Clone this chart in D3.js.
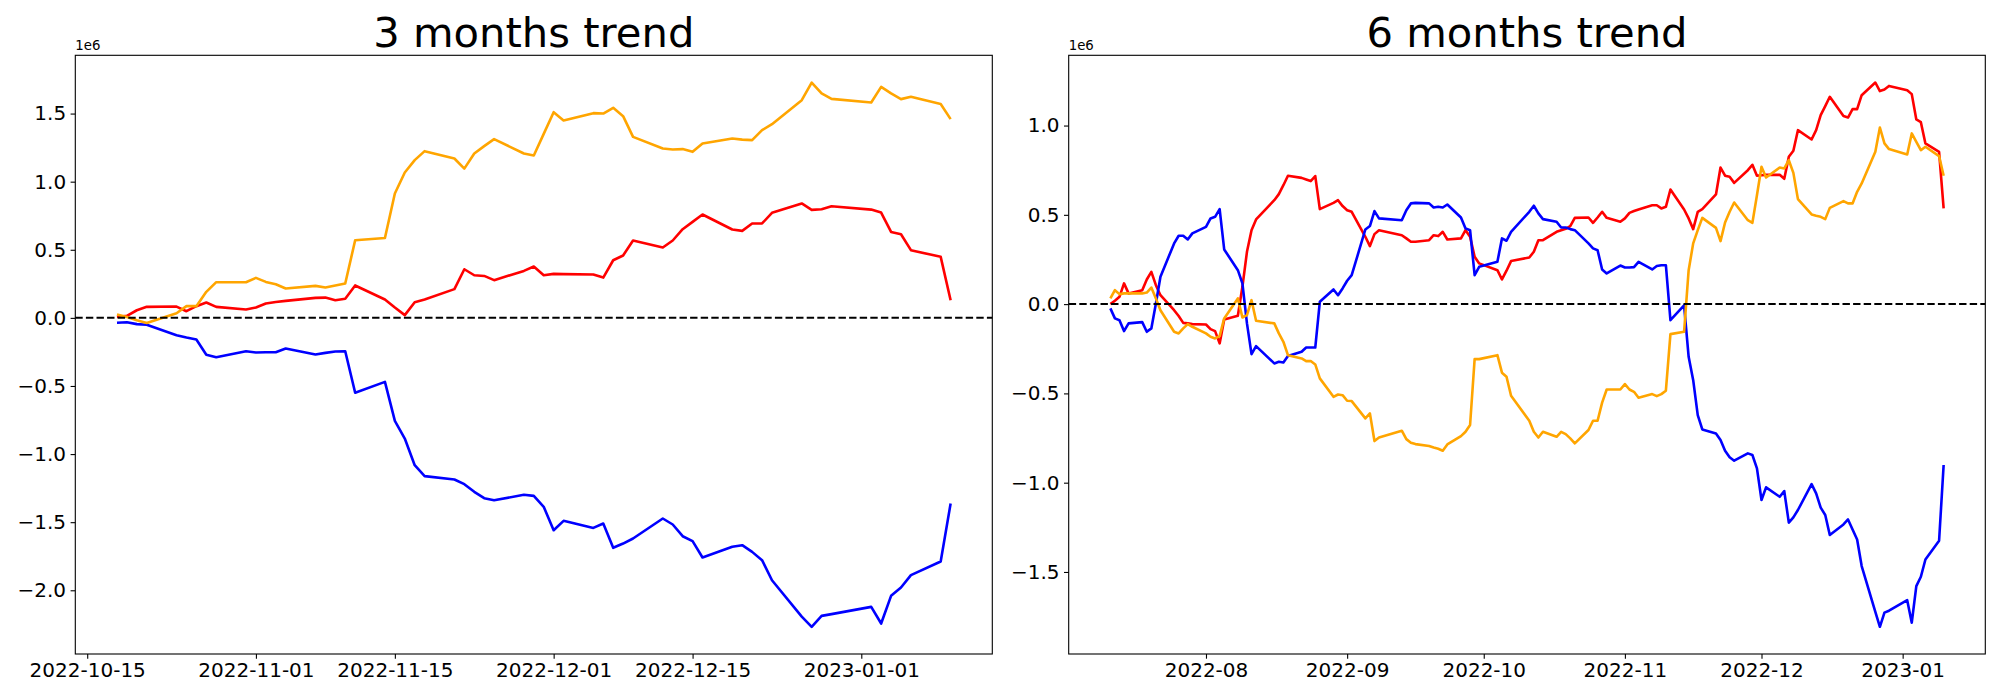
<!DOCTYPE html>
<html>
<head>
<meta charset="utf-8">
<script src="https://cdn.jsdelivr.net/npm/d3@7"></script>
<style>
body { margin: 0; background: #fff; }
svg { display: block; font-family: "DejaVu Sans", sans-serif; }
</style>
</head>
<body>
<svg id="chart" width="2000" height="700"></svg>
<script>
// trading days (KRX calendar) for the 6 month window
let days6 = [
    "2022-07-11","2022-07-12","2022-07-13","2022-07-14","2022-07-15","2022-07-18","2022-07-19","2022-07-20","2022-07-21","2022-07-22",
    "2022-07-25","2022-07-26","2022-07-27","2022-07-28","2022-07-29",
    "2022-08-01","2022-08-02","2022-08-03","2022-08-04","2022-08-05","2022-08-08","2022-08-09","2022-08-10","2022-08-11","2022-08-12",
    "2022-08-16","2022-08-17","2022-08-18","2022-08-19","2022-08-22","2022-08-23","2022-08-24","2022-08-25","2022-08-26",
    "2022-08-29","2022-08-30","2022-08-31",
    "2022-09-01","2022-09-02","2022-09-05","2022-09-06","2022-09-07","2022-09-08","2022-09-13","2022-09-14","2022-09-15","2022-09-16",
    "2022-09-19","2022-09-20","2022-09-21","2022-09-22","2022-09-23","2022-09-26","2022-09-27","2022-09-28","2022-09-29","2022-09-30",
    "2022-10-04","2022-10-05","2022-10-06","2022-10-07","2022-10-11","2022-10-12","2022-10-13","2022-10-14","2022-10-17","2022-10-18",
    "2022-10-19","2022-10-20","2022-10-21","2022-10-24","2022-10-25","2022-10-26","2022-10-27","2022-10-28","2022-10-31",
    "2022-11-01","2022-11-02","2022-11-03","2022-11-04","2022-11-07","2022-11-08","2022-11-09","2022-11-10","2022-11-11",
    "2022-11-14","2022-11-15","2022-11-16","2022-11-17","2022-11-18","2022-11-21","2022-11-22","2022-11-23","2022-11-24","2022-11-25",
    "2022-11-28","2022-11-29","2022-11-30",
    "2022-12-01","2022-12-02","2022-12-05","2022-12-06","2022-12-07","2022-12-08","2022-12-09","2022-12-12","2022-12-13","2022-12-14",
    "2022-12-15","2022-12-16","2022-12-19","2022-12-20","2022-12-21","2022-12-22","2022-12-23","2022-12-26","2022-12-27","2022-12-28",
    "2022-12-29",
    "2023-01-02","2023-01-03","2023-01-04","2023-01-05","2023-01-06","2023-01-09","2023-01-10"
];
// the 3 month window starts on 2022-10-18
let days3 = days6.slice(days6.indexOf("2022-10-18"));

// cumulative values, in units of 1e6
let red6 = [
    0.000, 0.019, 0.041, 0.116, 0.060, 0.078, 0.138, 0.181, 0.106, 0.050, -0.034, -0.067, -0.105, -0.108, -0.112,
    -0.114, -0.140, -0.151, -0.220, -0.086, -0.065, 0.097, 0.293, 0.414, 0.474, 0.582, 0.616, 0.666, 0.719, 0.707, 0.698, 0.689, 0.717, 0.532, 0.567, 0.582, 0.549,
    0.526, 0.517, 0.377, 0.325, 0.392, 0.414, 0.386, 0.368, 0.349, 0.349, 0.358, 0.386, 0.381, 0.405, 0.362, 0.368, 0.414, 0.377, 0.265, 0.228,
    0.190, 0.138, 0.187, 0.241, 0.261, 0.293, 0.358, 0.358, 0.405, 0.414, 0.422, 0.437, 0.483, 0.485, 0.455, 0.485, 0.517, 0.483, 0.461,
    0.480, 0.511, 0.521, 0.530, 0.554, 0.554, 0.536, 0.545, 0.642, 0.530, 0.480, 0.420, 0.517, 0.532, 0.614, 0.765, 0.719, 0.713, 0.679, 0.750, 0.780, 0.719,
    0.722, 0.724, 0.724, 0.702, 0.825, 0.859, 0.974, 0.922, 0.974, 1.058, 1.109, 1.161, 1.053, 1.045, 1.092, 1.092, 1.170, 1.241, 1.193, 1.202, 1.222,
    1.198, 1.176, 1.034, 1.019, 0.900, 0.853, 0.536
];
let blue6 = [
    -0.024, -0.080, -0.090, -0.151, -0.108, -0.101, -0.155, -0.136, 0.004, 0.153, 0.340, 0.383, 0.383, 0.362, 0.396,
    0.433, 0.480, 0.489, 0.532, 0.306, 0.190, 0.116, -0.108, -0.280, -0.235, -0.332, -0.323, -0.327, -0.291, -0.267, -0.243, -0.243, -0.243, 0.013, 0.082, 0.050, 0.088,
    0.131, 0.162, 0.418, 0.437, 0.521, 0.480, 0.470, 0.526, 0.564, 0.567, 0.564, 0.541, 0.545, 0.541, 0.558, 0.485, 0.424, 0.414, 0.162, 0.209,
    0.237, 0.368, 0.355, 0.405, 0.517, 0.551, 0.508, 0.476, 0.461, 0.429, 0.429, 0.420, 0.414, 0.340, 0.312, 0.302, 0.194, 0.172, 0.216,
    0.205, 0.205, 0.207, 0.237, 0.194, 0.213, 0.218, 0.218, -0.090, -0.007, -0.295, -0.426, -0.622, -0.702, -0.724, -0.761, -0.821, -0.858, -0.877, -0.836, -0.845, -0.920,
    -1.097, -1.026, -1.079, -1.047, -1.224, -1.194, -1.153, -1.008, -1.060, -1.140, -1.181, -1.293, -1.234, -1.206, -1.262, -1.318, -1.467, -1.723, -1.807, -1.728, -1.717,
    -1.658, -1.784, -1.579, -1.527, -1.430, -1.325, -0.901
];
let orange6 = [
    0.032, 0.078, 0.056, 0.060, 0.060, 0.060, 0.065, 0.093, 0.032, -0.034, -0.155, -0.164, -0.136, -0.112, -0.127,
    -0.164, -0.183, -0.192, -0.179, -0.080, 0.032, -0.075, -0.062, 0.022, -0.093, -0.108, -0.164, -0.211, -0.286, -0.304, -0.319, -0.319, -0.338, -0.416, -0.519, -0.506, -0.510,
    -0.541, -0.543, -0.640, -0.612, -0.767, -0.747, -0.709, -0.756, -0.776, -0.784, -0.795, -0.803, -0.810, -0.821, -0.786, -0.739, -0.715, -0.677, -0.308, -0.308,
    -0.286, -0.384, -0.407, -0.513, -0.653, -0.715, -0.747, -0.715, -0.743, -0.715, -0.728, -0.752, -0.780, -0.705, -0.653, -0.653, -0.552, -0.478, -0.478,
    -0.448, -0.478, -0.491, -0.524, -0.504, -0.515, -0.504, -0.485, -0.168, -0.155, 0.190, 0.340, 0.414, 0.483, 0.427, 0.353, 0.457, 0.517, 0.569, 0.470, 0.455, 0.610,
    0.769, 0.709, 0.765, 0.760, 0.806, 0.735, 0.588, 0.502, 0.495, 0.489, 0.476, 0.539, 0.577, 0.564, 0.564, 0.629, 0.676, 0.853, 0.989, 0.900, 0.868,
    0.838, 0.956, 0.909, 0.862, 0.881, 0.829, 0.719
];

let red3 = [
    0.007, 0.015, 0.056, 0.081, 0.083, 0.049, 0.086, 0.113, 0.081, 0.061,
    0.076, 0.105, 0.117, 0.125, 0.147, 0.149, 0.130, 0.140, 0.238, 0.135, 0.076, 0.020, 0.115, 0.135, 0.211, 0.357, 0.313, 0.308, 0.277, 0.345, 0.377, 0.313,
    0.323, 0.321, 0.318, 0.296, 0.423, 0.458, 0.568, 0.517, 0.568, 0.651, 0.705, 0.759, 0.649, 0.639, 0.693, 0.693, 0.771, 0.840, 0.793, 0.798, 0.820,
    0.795, 0.773, 0.631, 0.614, 0.497, 0.448, 0.130
];
let blue3 = [
    -0.036, -0.032, -0.046, -0.051, -0.127, -0.144, -0.159, -0.271, -0.289, -0.245,
    -0.254, -0.252, -0.252, -0.225, -0.269, -0.257, -0.247, -0.245, -0.550, -0.470, -0.756, -0.886, -1.082, -1.162, -1.187, -1.221, -1.277, -1.324, -1.339, -1.299, -1.307, -1.387,
    -1.559, -1.490, -1.542, -1.510, -1.688, -1.657, -1.620, -1.473, -1.517, -1.603, -1.639, -1.759, -1.681, -1.669, -1.718, -1.779, -1.926, -2.193, -2.268, -2.188, -2.175,
    -2.122, -2.244, -2.041, -1.980, -1.889, -1.789, -1.363
];
let orange3 = [
    0.025, 0.007, -0.017, -0.037, 0.034, 0.086, 0.086, 0.191, 0.262, 0.262,
    0.294, 0.264, 0.247, 0.216, 0.235, 0.223, 0.238, 0.252, 0.570, 0.587, 0.913, 1.067, 1.158, 1.224, 1.170, 1.096, 1.207, 1.261, 1.312, 1.207, 1.192, 1.351,
    1.510, 1.449, 1.503, 1.500, 1.542, 1.481, 1.329, 1.244, 1.236, 1.239, 1.219, 1.280, 1.317, 1.309, 1.305, 1.378, 1.422, 1.598, 1.728, 1.648, 1.608,
    1.581, 1.696, 1.648, 1.606, 1.623, 1.570, 1.459
];

let xTicks3 = ["2022-10-15", "2022-11-01", "2022-11-15", "2022-12-01", "2022-12-15", "2023-01-01"];
let xTicks6 = ["2022-08-01", "2022-09-01", "2022-10-01", "2022-11-01", "2022-12-01", "2023-01-01"];
let yTicks3 = [-2.0, -1.5, -1.0, -0.5, 0.0, 0.5, 1.0, 1.5];
let yTicks6 = [-1.5, -1.0, -0.5, 0.0, 0.5, 1.0];

showData();

function showData() {
    let svg = d3.select("#chart");
    let top = 55.3;
    let bottom = 654;

    drawPanel(svg, {
        title: "3 months trend",
        days: days3,
        series: [[red3, "red"], [blue3, "blue"], [orange3, "orange"]],
        xTicks: xTicks3,
        xFormat: "%Y-%m-%d",
        yTicks: yTicks3,
        left: 75.3, right: 992.3, top: top, bottom: bottom
    });
    drawPanel(svg, {
        title: "6 months trend",
        days: days6,
        series: [[red6, "red"], [blue6, "blue"], [orange6, "orange"]],
        xTicks: xTicks6,
        xFormat: "%Y-%m",
        yTicks: yTicks6,
        left: 1068.7, right: 1985.3, top: top, bottom: bottom
    });
}

function drawPanel(svg, p) {
    let parse = d3.timeParse("%Y-%m-%d");
    let dates = p.days.map(parse);

    // matplotlib style 5% margins around the data
    let xExt = d3.extent(dates);
    let xPad = (xExt[1] - xExt[0]) * 0.05;
    let allValues = p.series.flatMap(s => s[0]);
    let yExt = d3.extent(allValues);
    let yPad = (yExt[1] - yExt[0]) * 0.05;

    let xScale = d3.scaleTime()
        .domain([new Date(+xExt[0] - xPad), new Date(+xExt[1] + xPad)])
        .range([p.left, p.right]);
    let yScale = d3.scaleLinear()
        .domain([yExt[0] - yPad, yExt[1] + yPad])
        .range([p.bottom, p.top]);

    let g = svg.append("g");

    let line = d3.line()
        .x((d, i) => xScale(dates[i]))
        .y(d => yScale(d));

    p.series.forEach(s => {
        g.append("path")
            .datum(s[0])
            .attr("d", line)
            .attr("fill", "none")
            .attr("stroke", s[1])
            .attr("stroke-width", 2.6)
            .attr("stroke-linejoin", "round");
    });

    // dashed zero line
    g.append("line")
        .attr("x1", p.left).attr("x2", p.right)
        .attr("y1", yScale(0)).attr("y2", yScale(0))
        .attr("stroke", "#000")
        .attr("stroke-width", 2)
        .attr("stroke-dasharray", "7.4,3.2");

    let xAxis = g.append("g")
        .attr("transform", `translate(0, ${p.bottom})`)
        .call(d3.axisBottom(xScale)
            .tickValues(p.xTicks.map(parse))
            .tickFormat(d3.timeFormat(p.xFormat))
            .tickSize(4.7).tickSizeOuter(0).tickPadding(4.5));
    let yAxis = g.append("g")
        .attr("transform", `translate(${p.left}, 0)`)
        .call(d3.axisLeft(yScale)
            .tickValues(p.yTicks)
            .tickFormat(d3.format(".1f"))
            .tickSize(4.7).tickSizeOuter(0).tickPadding(4.5));
    [xAxis, yAxis].forEach(a => {
        a.select(".domain").remove();
        a.selectAll("line").attr("stroke", "#000").attr("stroke-width", 1.1);
        a.selectAll("text")
            .attr("fill", "#000")
            .style("font-family", "DejaVu Sans")
            .style("font-size", "20px");
    });

    // axes frame
    g.append("rect")
        .attr("x", p.left).attr("y", p.top)
        .attr("width", p.right - p.left).attr("height", p.bottom - p.top)
        .attr("fill", "none")
        .attr("stroke", "#000")
        .attr("stroke-width", 1.1);

    // offset text
    g.append("text")
        .attr("x", p.left)
        .attr("y", p.top - 5)
        .style("font-size", "13.3px")
        .text("1e6");

    g.append("text")
        .attr("x", (p.left + p.right) / 2)
        .attr("y", 46.5)
        .attr("text-anchor", "middle")
        .style("font-size", "41.7px")
        .text(p.title);
}
</script>
</body>
</html>
